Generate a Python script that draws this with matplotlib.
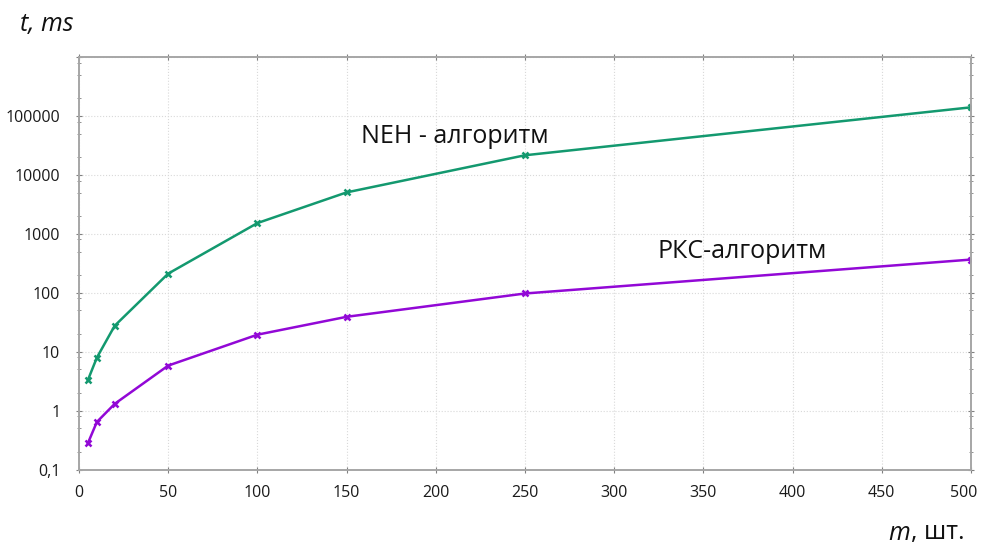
import matplotlib
matplotlib.use("Agg")
import matplotlib.pyplot as plt
import matplotlib.transforms as mtransforms
from matplotlib.ticker import FixedLocator, FixedFormatter, NullFormatter

# ============================================================
# Data
# ============================================================

m_values = [5, 10, 20, 50, 100, 150, 250, 500]
neh_ms = [3.3, 7.9, 27.5, 211, 1520, 5040, 21500, 140000]
pkc_ms = [0.28, 0.64, 1.3, 5.8, 19.4, 39, 97, 365]

x_ticks = [0, 50, 100, 150, 200, 250, 300, 350, 400, 450, 500]
y_ticks = [0.1, 1, 10, 100, 1000, 10000, 100000]
y_tick_labels = ["0,1", "1", "10", "100", "1000", "10000", "100000"]

neh_label = "NEH - алгоритм"
pkc_label = "РКС-алгоритм"

# ============================================================
# Figure
# ============================================================

plt.rcParams["font.family"] = ["Open Sans", "DejaVu Sans"]

green = "#13996f"
purple = "#9208d6"
frame = "#a6a6a6"

fig = plt.figure(figsize=(9.81, 5.44), dpi=100)
ax = fig.add_axes([79 / 981, 1 - 469.5 / 544, (971 - 79) / 981, (469.5 - 57) / 544])

ax.plot(m_values, neh_ms, color=green, lw=1.8, marker="x", ms=4, mew=1.8)
ax.plot(m_values, pkc_ms, color=purple, lw=1.8, marker="x", ms=4, mew=1.8)

ax.set_yscale("log")
ax.set_xlim(0, 500)
ax.set_ylim(0.1, 1e6)

ax.xaxis.set_major_locator(FixedLocator(x_ticks))
ax.yaxis.set_major_locator(FixedLocator(y_ticks + [1e6]))
ax.yaxis.set_major_formatter(FixedFormatter(y_tick_labels + [""]))
minor = [d * k for d in [0.1, 1, 10, 100, 1000, 10000, 100000] for k in (2, 5, 8)]
ax.yaxis.set_minor_locator(FixedLocator(minor))
ax.yaxis.set_minor_formatter(NullFormatter())

ax.tick_params(axis="both", which="both", direction="inout", color="#808080",
               top=True, right=True, labelsize=11.5, labelcolor="#1a1a1a")
ax.tick_params(axis="y", which="major", length=5, width=0.8, pad=11)
ax.tick_params(axis="y", which="minor", length=3, width=0.6)
ax.tick_params(axis="x", which="major", length=5, width=0.8, pad=9)

ax.grid(True, which="major", color="#d9d9d9", lw=0.8, ls=":")

for side in ["left", "right", "top", "bottom"]:
    ax.spines[side].set_color(frame)
    ax.spines[side].set_linewidth(1.4)

# last x label sits a little left of its tick, as in the reference
shift = mtransforms.ScaledTranslation(-7 / 100, 0, fig.dpi_scale_trans)
last = ax.get_xticklabels()[-1]
last.set_transform(last.get_transform() + shift)

ax.text(158, 4.4e4, neh_label, fontsize=18, ha="left", va="center", color="#111111")
ax.text(324, 500, pkc_label, fontsize=18, ha="left", va="center", color="#111111")

fig.text(20 / 981, 1 - 25 / 544, "t, ms", fontsize=18, style="italic",
         ha="left", va="center", color="#111111")
m_txt = fig.text(888 / 981, 1 - 533 / 544, "m", fontsize=18, style="italic",
                 ha="left", va="center", color="#111111")
fig.canvas.draw()
bb = m_txt.get_window_extent()
fig.text(bb.x1 / 981 + 1 / 981, 1 - 533 / 544, ", шт.", fontsize=18,
         ha="left", va="center", color="#111111")

fig.savefig("out.png", dpi=100, facecolor="white")
